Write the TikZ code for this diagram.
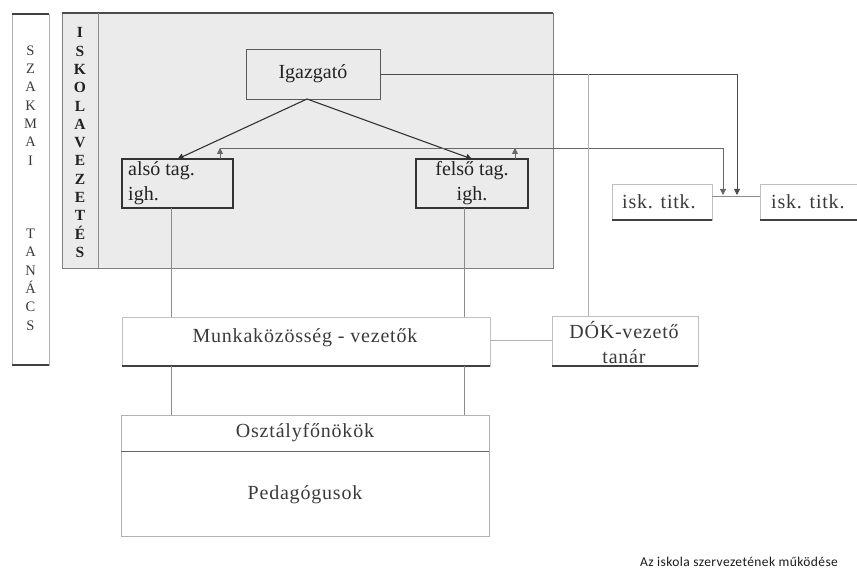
\documentclass[tikz,border=0pt]{standalone}
\usepackage{fontspec}
\setmainfont{Liberation Serif}
\newfontfamily\spacedfont[LetterSpace=4]{Liberation Serif}
\newfontfamily\capfont[LetterSpace=3]{Carlito}
\usetikzlibrary{arrows.meta,calc}
\definecolor{panelgray}{HTML}{EBEBEB}
\definecolor{txtdark}{HTML}{222222}
\definecolor{txtmid}{HTML}{3A3A3A}
\begin{document}
\begin{tikzpicture}[x=1pt,y=-1pt,
  box/.style={draw=#1, inner sep=0pt, outer sep=0pt},
  thinline/.style={draw=black!45, line width=0.7pt},
  lightline/.style={draw=black!30, line width=0.7pt},
  midline/.style={draw=black!60, line width=0.8pt},
  darkline/.style={draw=black!80, line width=1.1pt},
  tipd/.style={-{Triangle[length=6pt,width=6pt]}},
  tipu/.style={{Triangle[length=6pt,width=6pt]}-},
  maintxt/.style={font=\fontsize{20}{25}\selectfont, text=txtdark},
  softtxt/.style={font=\spacedfont\fontsize{20}{25}\selectfont, text=txtmid},
  shadowedge/.style={draw=black!75, line width=1.6pt}
]
\useasboundingbox (0,0) rectangle (857,577);

% SZAKMAI TANACS box
\node[box=black!30, line width=0.6pt, minimum width=37pt, minimum height=351pt] (szak) at (30.5,189.5) {};
\draw[shadowedge] (szak.north west) -- (szak.north east);
\draw[shadowedge] (szak.south west) -- (szak.south east);
\node[font=\fontsize{14.5}{18.33}\selectfont, text=txtmid, align=center, anchor=north] (szaktxt) at (30.5,42)
  {S\\Z\\A\\K\\M\\A\\I\\[3\baselineskip]T\\A\\N\\Á\\C\\S};

% ISKOLAVEZETES panel
\node[box=black!50, fill=panelgray, line width=0.8pt, minimum width=491pt, minimum height=255pt] (panel) at (307.5,140.5) {};
\draw[draw=black!70, line width=1.2pt] (panel.north west) -- (panel.north east);
\coordinate (divtop) at (98,13);
\coordinate (divbot) at (98,268);
\draw[thinline] (divtop) -- (divbot);
\node[font=\bfseries\fontsize{15.5}{18.33}\selectfont, text=txtdark, align=center, anchor=north] (isktxt) at (80,24)
  {I\\S\\K\\O\\L\\A\\V\\E\\Z\\E\\T\\É\\S};

% Boxes
\node[box=black!65, line width=0.9pt, fill=panelgray, minimum width=134pt, minimum height=50pt, maintxt] (igaz) at (313,74) {Igazgató};
\node[box=black!80, line width=1.4pt, fill=panelgray, minimum width=111pt, minimum height=49pt] (also) at (177.5,183.5) {};
\node[maintxt, align=left, anchor=west, inner sep=0pt] (alsotxt) at (128,183) {alsó tag.\\igh.};
\node[box=black!80, line width=1.4pt, fill=panelgray, minimum width=112pt, minimum height=49pt, maintxt, align=center] (felso) at (472,183.5) {felső tag.\\igh.};

\node[box=black!25, line width=0.6pt, fill=white, minimum width=100pt, minimum height=36pt] (isk1) at (662,202) {};
\draw[shadowedge] (isk1.south west) -- (isk1.south east);
\node[softtxt, anchor=west, inner sep=0pt] (isk1txt) at (622,202) {isk. titk.};
\node[box=black!25, line width=0.6pt, fill=white, minimum width=110pt, minimum height=36pt] (isk2) at (815,202) {};
\draw[shadowedge] (isk2.south west) -- (isk2.south east);
\node[softtxt, anchor=west, inner sep=0pt] (isk2txt) at (771,202) {isk. titk.};

\node[box=black!25, line width=0.6pt, minimum width=368pt, minimum height=49pt] (munka) at (306,341.5) {};
\draw[shadowedge] (munka.south west) -- (munka.south east);
\node[softtxt, inner sep=0pt] (munkatxt) at (305,338) {Munkaközösség - vezetők};

\node[box=black!25, line width=0.6pt, minimum width=146pt, minimum height=50pt] (dok) at (625,341) {};
\draw[shadowedge] (dok.south west) -- (dok.south east);
\node[softtxt, align=center, inner sep=0pt] (doktxt) at (624,342.5) {DÓK-vezető\\tanár};

\node[box=black!30, line width=0.6pt, minimum width=368pt, minimum height=121pt] (oszt) at (305,475.5) {};
\coordinate (divl) at (121,451);
\coordinate (divr) at (489,451);
\draw[midline] (divl) -- (divr);
\node[softtxt, inner sep=0pt] (oszttxt) at (305,433) {Osztályfőnökök};
\node[softtxt, inner sep=0pt] (pedtxt) at (305,495) {Pedagógusok};

\node[font=\capfont\fontsize{13.5}{16}\selectfont, text=black!90, inner sep=0pt] (cap) at (739,562) {Az iskola szervezetének működése};

% Connectors
\coordinate (apex) at (307,99);
\draw[darkline, tipd] (apex) -- (also.north);
\draw[darkline, tipd] (apex) -- (felso.north);

% Igazgato -> isk titk
\coordinate (r1) at (737,74);
\coordinate (r1d) at (737,195);
\draw[midline, draw=black!70, tipd] (igaz.east |- r1) -- (r1) -- (r1d);

% tag igh -> isk titk
\coordinate (h1) at (220,148);
\coordinate (h1b) at (220,159);
\coordinate (h2) at (515,148);
\coordinate (h2b) at (515,159);
\coordinate (h3) at (723,148);
\coordinate (h3d) at (723,195);
\draw[midline, tipu] (h1) -- (h1b);
\draw[midline, tipu] (h2) -- (h2b);
\draw[midline, tipd] (h1) -- (h3) -- (h3d);

% isk titk link
\draw[thinline] (isk1.east |- 0,196) -- (isk2.west |- 0,196);

% DOK vertical
\coordinate (d1) at (588,74);
\draw[lightline] (d1) -- (d1 |- dok.north);

% vertical connectors
\coordinate (a1) at (171,208);
\draw[thinline] (a1) -- (a1 |- munka.north);
\draw[thinline] (a1 |- munka.south) -- (a1 |- oszt.north);
\coordinate (f1) at (464,208);
\draw[thinline] (f1) -- (f1 |- munka.north);
\draw[thinline] (f1 |- munka.south) -- (f1 |- oszt.north);

% munka - DOK
\draw[lightline] (munka.east |- 0,340) -- (dok.west |- 0,340);
\end{tikzpicture}
\end{document}
